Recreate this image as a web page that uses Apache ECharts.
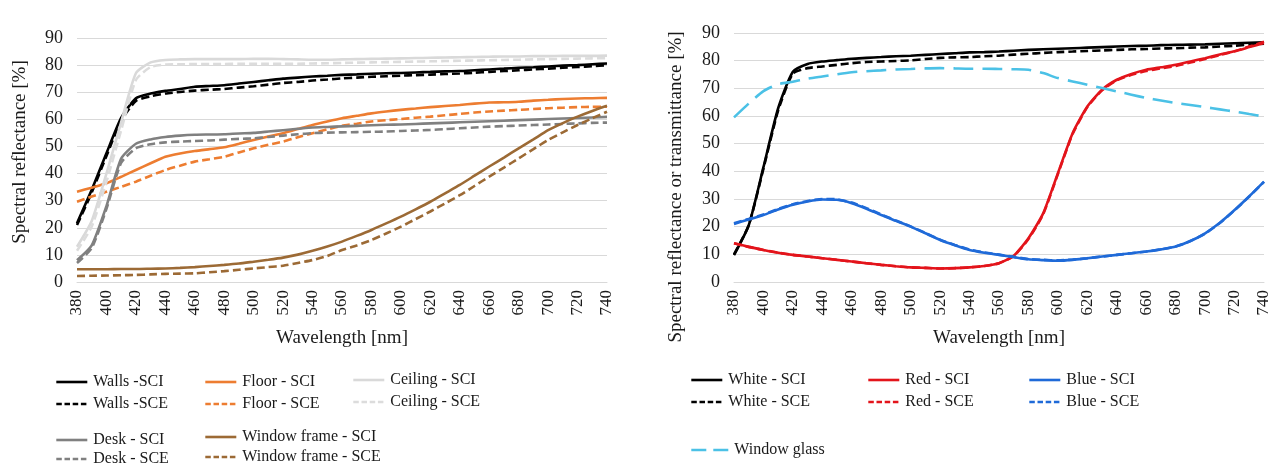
<!DOCTYPE html>
<html>
<head>
<meta charset="utf-8">
<script src="https://cdn.jsdelivr.net/npm/echarts@6/dist/echarts.min.js"></script>
<style>
  html, body { margin: 0; padding: 0; background: #ffffff; }
  #chart { width: 1279px; height: 472px; }
</style>
</head>
<body>
<div id="chart"></div>
<script>
// Wavelength samples (nm), every 10 nm
const wavelengths = [380,390,400,410,420,430,440,450,460,470,480,490,500,510,520,530,540,550,560,570,580,590,600,610,620,630,640,650,660,670,680,690,700,710,720,730,740];
const xTicks = { min: 380, max: 740, step: 20 };
const yTicks = { min: 0, max: 90, step: 10 };

// Room surfaces: spectral reflectance [%]
const wallsSCI = [21.7,34,47.5,60.5,67.8,69.5,70.5,71.2,72,72.3,72.6,73.2,73.8,74.4,75,75.4,75.8,76.1,76.4,76.6,76.8,77,77.1,77.3,77.5,77.7,77.8,78.1,78.4,78.7,79,79.2,79.5,79.8,80,80.3,80.6];
const wallsSCE = [21,33,46.5,59.5,66.8,68.5,69.5,70.1,70.6,70.9,71.2,71.7,72.2,72.8,73.4,73.8,74.3,74.7,75.1,75.4,75.7,75.9,76.1,76.3,76.5,76.7,76.9,77.2,77.5,77.8,78.1,78.4,78.7,79,79.3,79.6,79.9];
const floorSCI = [33.3,34.8,36.4,38.8,41.3,43.8,46.2,47.4,48.3,49,49.7,51,52.4,53.7,54.9,56.4,57.9,59.2,60.4,61.3,62.2,62.9,63.5,64,64.5,64.9,65.3,65.8,66.2,66.3,66.5,66.9,67.2,67.5,67.7,67.8,67.9];
const floorSCE = [29.6,31.5,33.3,35.1,37,39.2,41.3,42.9,44.4,45.3,46.2,47.8,49.3,50.6,51.8,53.4,54.9,56.3,57.6,58.4,59.2,59.7,60.1,60.6,61,61.5,62,62.5,62.9,63.2,63.5,63.8,64.1,64.3,64.5,64.6,64.7];
const ceilingSCI = [13,22.5,40,59,77,81,81.9,82.1,82.2,82.2,82.2,82.2,82.3,82.3,82.2,82.1,82,82,82.1,82.2,82.3,82.4,82.5,82.6,82.7,82.8,82.9,83,83.1,83.2,83.2,83.3,83.3,83.4,83.4,83.4,83.5];
const ceilingSCE = [11.5,20.5,37,56,74.5,79.3,80.2,80.3,80.4,80.4,80.4,80.5,80.5,80.5,80.5,80.5,80.6,80.7,80.8,80.9,81,81.1,81.2,81.3,81.4,81.5,81.6,81.7,81.8,81.9,82,82.1,82.2,82.3,82.4,82.5,82.6];
const deskSCI = [8,13.5,28,45.5,51,52.6,53.5,54,54.3,54.4,54.5,54.8,55,55.5,56,56.5,57,57.2,57.4,57.6,57.8,58,58.1,58.3,58.5,58.7,58.9,59.1,59.3,59.5,59.7,59.9,60.1,60.3,60.5,60.7,60.9];
const deskSCE = [7,12.5,27,44,49.3,50.8,51.5,51.8,52,52.2,52.5,52.8,53,53.5,54,54.5,54.9,55.1,55.2,55.3,55.4,55.5,55.7,55.9,56.1,56.4,56.7,57,57.3,57.5,57.7,57.9,58.1,58.3,58.5,58.7,58.8];
const frameSCI = [4.7,4.7,4.7,4.8,4.8,4.9,5,5.2,5.5,5.9,6.3,6.8,7.5,8.2,9,10.1,11.5,13.1,14.9,17,19.2,21.6,24.1,26.8,29.6,32.7,35.8,39.2,42.6,45.9,49.3,52.6,56,58.6,61,63.1,65];
const frameSCE = [2.2,2.3,2.4,2.5,2.6,2.8,3,3.1,3.2,3.6,4,4.5,5,5.5,6,7,8.1,9.6,11.8,13.5,15.5,17.9,20.4,23.2,26,29,32,35.4,38.9,42.2,45.6,49,52.4,55.2,57.9,60.4,62.8];

// Furnishing samples: reflectance, plus glazing transmittance [%]
const whiteSCI = [9.7,20.5,41.5,62.8,76,78.8,79.7,80.2,80.7,81,81.3,81.6,81.8,82.1,82.4,82.7,83,83.1,83.3,83.6,83.9,84.1,84.3,84.5,84.7,84.9,85.1,85.3,85.4,85.6,85.7,85.8,85.9,86.1,86.3,86.5,86.6];
const whiteSCE = [10,20.5,41,62,75.3,77.3,77.9,78.5,79.1,79.5,79.7,79.9,80.1,80.6,81,81.2,81.3,81.6,81.8,82.2,82.5,82.8,83.1,83.3,83.5,83.7,83.9,84.1,84.2,84.4,84.5,84.7,84.8,85.1,85.4,85.8,86.1];
const redSCI = [14,12.7,11.6,10.6,9.8,9.2,8.6,8,7.4,6.8,6.2,5.7,5.3,5.1,4.9,5,5.3,5.8,6.8,9.5,15.8,24.8,39.3,53.8,63.4,69.5,73.1,75.2,76.7,77.6,78.5,79.7,80.9,82.2,83.4,84.9,86.4];
const redSCE = [14,12.7,11.6,10.6,9.8,9.2,8.6,8,7.4,6.8,6.2,5.7,5.3,5.1,4.9,5,5.3,5.8,6.8,9.4,15.5,24.5,39,53.5,63.2,69.3,72.9,74.9,76.3,77.2,78.1,79.3,80.6,82,83.4,85.1,86.8];
const blueSCI = [21,22.6,24.2,26.2,27.9,29.1,29.8,29.7,28.5,26.5,24.2,22.1,20,17.6,15.2,13.3,11.6,10.6,9.8,9,8.2,7.9,7.7,8,8.6,9.2,9.8,10.4,11,11.8,12.8,14.8,17.6,21.4,26,31,36.3];
const blueSCE = [21.2,22.8,24.4,26.4,28.1,29.3,30,29.9,28.7,26.7,24.4,22.2,20.1,17.7,15.3,13.4,11.7,10.7,9.9,9.1,8.3,8,7.8,8.1,8.6,9.2,9.8,10.4,11,11.8,12.8,14.8,17.5,21.3,25.9,30.9,36.2];
const windowGlass = [59.5,64.5,69,71.5,72.4,73.5,74.3,75.1,75.8,76.2,76.5,76.8,77,77.2,77.3,77.2,77.1,77.1,77,76.9,76.7,75.5,73.7,72.5,71.3,70.1,68.9,67.7,66.5,65.6,64.7,64,63.2,62.4,61.6,60.7,59.8];

const FONT = '"Liberation Serif", "Times New Roman", serif';
const TEXT = '#1a1a1a';
const GRID_LINE = '#d9d9d9';

// dash patterns: [in plot, in legend key]
const SHORT_DASH = [[8, 4], [5.5, 2.7]];
const LONG_DASH = [[20, 9], [15, 7]];
const SOLID = ['solid', 'solid'];

// name, values, colour, dash, panel, legend position [x, y-centre]
const lines = [
  ['Walls -SCI', wallsSCI, '#000000', SOLID, 0, [55, 383]],
  ['Walls -SCE', wallsSCE, '#000000', SHORT_DASH, 0, [55, 405]],
  ['Floor - SCI', floorSCI, '#ED7D31', SOLID, 0, [204, 383]],
  ['Floor - SCE', floorSCE, '#ED7D31', SHORT_DASH, 0, [204, 405]],
  ['Ceiling - SCI', ceilingSCI, '#D9D9D9', SOLID, 0, [352, 381]],
  ['Ceiling - SCE', ceilingSCE, '#DCDCDC', SHORT_DASH, 0, [352, 403]],
  ['Desk - SCI', deskSCI, '#808080', SOLID, 0, [55, 441]],
  ['Desk - SCE', deskSCE, '#808080', SHORT_DASH, 0, [55, 460]],
  ['Window frame - SCI', frameSCI, '#9C6A35', SOLID, 0, [204, 438]],
  ['Window frame - SCE', frameSCE, '#9C6A35', SHORT_DASH, 0, [204, 458]],
  ['White - SCI', whiteSCI, '#000000', SOLID, 1, [690, 381]],
  ['White - SCE', whiteSCE, '#000000', SHORT_DASH, 1, [690, 403]],
  ['Red - SCI', redSCI, '#E3141B', SOLID, 1, [867, 381]],
  ['Red - SCE', redSCE, '#E3141B', SHORT_DASH, 1, [867, 403]],
  ['Blue - SCI', blueSCI, '#1F6AD8', SOLID, 1, [1028, 381]],
  ['Blue - SCE', blueSCE, '#1F6AD8', SHORT_DASH, 1, [1028, 403]],
  ['Window glass', windowGlass, '#4BC1E6', LONG_DASH, 1, [690, 451]]
];

const grids = [
  { left: 77, right: 672, top: 38, bottom: 190 },
  { left: 734, right: 15, top: 33, bottom: 190 }
];

const xAxes = grids.map((g, i) => ({
  type: 'value', gridIndex: i,
  min: xTicks.min, max: xTicks.max, interval: xTicks.step,
  name: 'Wavelength [nm]', nameLocation: 'middle', nameGap: 47,
  nameTextStyle: { fontFamily: FONT, fontSize: 19, color: TEXT },
  axisLine: { show: true, lineStyle: { color: GRID_LINE, width: 1 } },
  axisTick: { show: false },
  splitLine: { show: false },
  axisLabel: { rotate: 90, margin: 8, fontFamily: FONT, fontSize: 17, color: TEXT }
}));

const yAxes = grids.map((g, i) => ({
  type: 'value', gridIndex: i,
  min: yTicks.min, max: yTicks.max, interval: yTicks.step,
  axisLine: { show: false },
  axisTick: { show: false },
  splitLine: { show: true, lineStyle: { color: GRID_LINE, width: 1 } },
  axisLabel: { margin: 14, fontFamily: FONT, fontSize: 18, color: TEXT }
}));

const series = lines.map(([name, values, color, dash, panel]) => ({
  name, type: 'line',
  xAxisIndex: panel, yAxisIndex: panel,
  data: wavelengths.map((w, k) => [w, values[k]]),
  showSymbol: false, symbol: 'none',
  smooth: 0.2,
  lineStyle: { color, width: 2.6, type: dash[0] },
  itemStyle: { color },
  emphasis: { disabled: true },
  animation: false
}));

const legends = lines.map(([name, , color, dash, , pos]) => ({
  data: [name],
  left: pos[0], top: pos[1] - 9,
  itemWidth: name === 'Window glass' ? 37 : 31, itemHeight: 14,
  padding: 0,
  selectedMode: false,
  itemStyle: { opacity: 0, borderWidth: 0 },
  lineStyle: { color, width: 2.6, type: dash[1], opacity: 1 },
  textStyle: { fontFamily: FONT, fontSize: 16, color: TEXT, padding: [0, 0, 0, 1] }
}));

const chart = echarts.init(document.getElementById('chart'), null, { renderer: 'canvas' });
chart.setOption({
  backgroundColor: '#ffffff',
  animation: false,
  grid: grids,
  xAxis: xAxes,
  yAxis: yAxes,
  series,
  legend: legends,
  graphic: [
    {
      type: 'text', x: 20, y: 152, rotation: Math.PI / 2,
      style: { text: 'Spectral reflectance [%]', font: '19px ' + FONT, fill: TEXT, align: 'center', verticalAlign: 'middle' }
    },
    {
      type: 'text', x: 676, y: 187, rotation: Math.PI / 2,
      style: { text: 'Spectral reflectance or transmittance [%]', font: '19px ' + FONT, fill: TEXT, align: 'center', verticalAlign: 'middle' }
    }
  ]
});
</script>
</body>
</html>
